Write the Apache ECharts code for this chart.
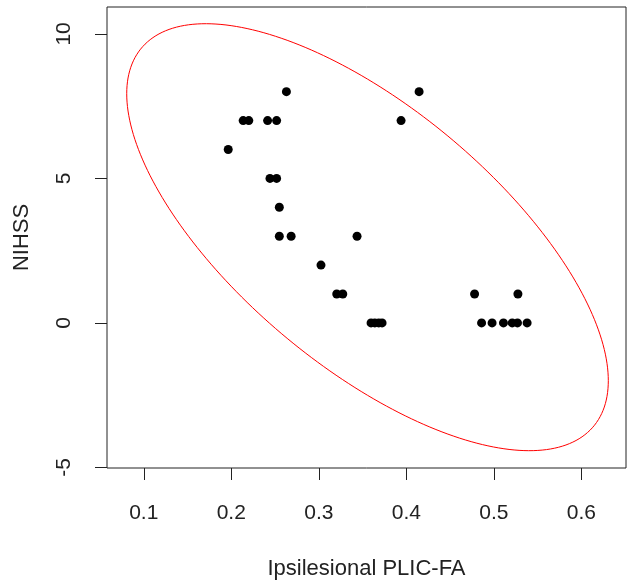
<!DOCTYPE html>
<html>
<head>
<meta charset="utf-8">
<script src="https://cdn.jsdelivr.net/npm/echarts@6/dist/echarts.min.js"></script>
<style>
html,body{margin:0;padding:0;background:#fff;}
#chart{width:630px;height:581px;}
</style>
</head>
<body>
<div id="chart"></div>
<script>
// Ipsilesional PLIC-FA (x) and NIHSS (y) for each patient
const plicFA = [0.263, 0.2136, 0.220, 0.2415, 0.2518, 0.1965, 0.2442, 0.2518, 0.2549, 0.2549, 0.2684,
  0.3437, 0.3025, 0.3205, 0.3274, 0.3597, 0.3640, 0.3685, 0.3723,
  0.478, 0.5275, 0.486, 0.498, 0.511, 0.521, 0.527, 0.538, 0.4146, 0.394];
const nihss = [8, 7, 7, 7, 7, 6, 5, 5, 4, 3, 3,
  3, 2, 1, 1, 0, 0, 0, 0,
  1, 1, 0, 0, 0, 0, 0, 0, 8, 7];
const xTicks = [0.1, 0.2, 0.3, 0.4, 0.5, 0.6];
const yTicks = [-5, 0, 5, 10];
const ellipseLevel = 0.95;

// 95% data ellipse from the sample mean and covariance
const n = plicFA.length;
const mx = plicFA.reduce((a, b) => a + b, 0) / n;
const my = nihss.reduce((a, b) => a + b, 0) / n;
let sxx = 0, syy = 0, sxy = 0;
for (let i = 0; i < n; i++) {
  const dx = plicFA[i] - mx, dy = nihss[i] - my;
  sxx += dx * dx; syy += dy * dy; sxy += dx * dy;
}
sxx /= (n - 1); syy /= (n - 1); sxy /= (n - 1);
const r = Math.sqrt(-2 * Math.log(1 - ellipseLevel));
const l11 = Math.sqrt(sxx), l21 = sxy / l11, l22 = Math.sqrt(syy - l21 * l21);
const ellipse = [];
for (let k = 0; k <= 240; k++) {
  const t = 2 * Math.PI * k / 240;
  const c = Math.cos(t), s = Math.sin(t);
  ellipse.push([mx + r * l11 * c, my + r * (l21 * c + l22 * s)]);
}

const points = plicFA.map((v, i) => [v, nihss[i]]);
const font = 'Liberation Sans, Arial, sans-serif';

const chart = echarts.init(document.getElementById('chart'), null, {renderer: 'canvas'});
chart.setOption({
  animation: false,
  backgroundColor: '#fff',
  grid: {left: 107, right: 4, top: 7, bottom: 113, show: true, borderColor: '#222', borderWidth: 1,
    backgroundColor: 'transparent', containLabel: false, outerBoundsMode: 'none'},
  xAxis: {
    type: 'value', min: 0.058, max: 0.651,
    name: 'Ipsilesional PLIC-FA', nameLocation: 'middle', nameGap: 90,
    nameTextStyle: {fontFamily: font, fontSize: 22, color: '#222'},
    axisLine: {show: false, onZero: false},
    axisTick: {show: true, inside: false, length: 12, lineStyle: {color: '#222'}, customValues: xTicks},
    axisLabel: {fontFamily: font, fontSize: 21, color: '#222', margin: 35, customValues: xTicks},
    splitLine: {show: false}
  },
  yAxis: {
    type: 'value', min: -5.02, max: 10.93,
    name: 'NIHSS', nameLocation: 'middle', nameGap: 74,
    nameTextStyle: {fontFamily: font, fontSize: 22, color: '#222'},
    axisLine: {show: false, onZero: false},
    axisTick: {show: true, inside: false, length: 12, lineStyle: {color: '#222'}, customValues: yTicks},
    axisLabel: {fontFamily: font, fontSize: 21, color: '#222', margin: 32, rotate: 90, customValues: yTicks},
    splitLine: {show: false}
  },
  series: [
    {
      type: 'line', data: ellipse, showSymbol: false, symbol: 'none', smooth: false,
      lineStyle: {color: '#ff0000', width: 1}, clip: false, z: 1
    },
    {
      type: 'scatter', data: points, symbol: 'circle', symbolSize: 9,
      itemStyle: {color: '#000', opacity: 1}, z: 2
    }
  ]
});
</script>
</body>
</html>
